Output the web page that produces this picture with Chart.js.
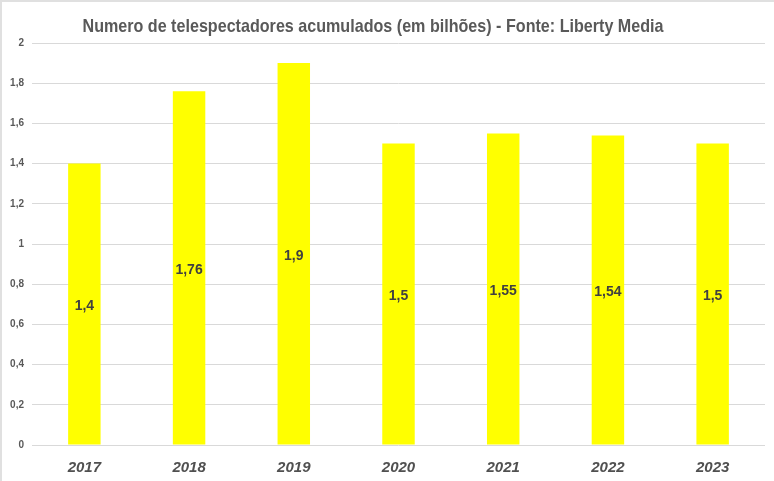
<!DOCTYPE html>
<html>
<head>
<meta charset="utf-8">
<script src="https://cdn.jsdelivr.net/npm/chart.js@4"></script>
<style>
  body { margin: 0; background: #fff; }
  #wrap { width: 774px; height: 481px; box-sizing: border-box; border-left: 2px solid #e0e0e0; border-top: 2px solid #e0e0e0; }
  canvas { display: block; }
</style>
</head>
<body>
<div id="wrap"><canvas id="chart" width="772" height="479"></canvas></div>
<script>
// Viewers in billions per season
const years = ['2017', '2018', '2019', '2020', '2021', '2022', '2023'];
const viewers = [1.4, 1.76, 1.9, 1.5, 1.55, 1.54, 1.5];
const yTicks = [0, 0.2, 0.4, 0.6, 0.8, 1, 1.2, 1.4, 1.6, 1.8, 2];
const titleText = 'Numero de telespectadores acumulados (em bilhões) - Fonte: Liberty Media';

const fmt = v => String(Math.round(v * 100) / 100).replace('.', ',');

// condensed-looking title (no narrow font installed, so squeeze it)
const narrowTitle = {
  id: 'narrowTitle',
  afterDraw(chart) {
    const ctx = chart.ctx;
    ctx.save();
    ctx.font = 'bold 19px "Liberation Sans", Arial, sans-serif';
    ctx.fillStyle = '#595959';
    ctx.textBaseline = 'middle';
    const w = ctx.measureText(titleText).width;
    const sx = 581 / w;
    ctx.translate(371 - 581 / 2, 25);
    ctx.scale(sx, 1);
    ctx.fillText(titleText, 0, 0);
    ctx.restore();
  }
};

// labels in the middle of each bar
const barLabels = {
  id: 'barLabels',
  afterDatasetsDraw(chart) {
    const ctx = chart.ctx;
    const meta = chart.getDatasetMeta(0);
    ctx.save();
    ctx.font = 'bold 14px "Liberation Sans", Arial, sans-serif';
    ctx.fillStyle = '#404040';
    ctx.textAlign = 'center';
    ctx.textBaseline = 'middle';
    meta.data.forEach((bar, i) => {
      const mid = (bar.y + bar.base) / 2;
      ctx.fillText(fmt(viewers[i]), bar.x, mid + 2);
    });
    ctx.restore();
  }
};

new Chart(document.getElementById('chart'), {
  type: 'bar',
  data: {
    labels: years,
    datasets: [{
      data: viewers,
      backgroundColor: '#ffff00',
      categoryPercentage: 1,
      barPercentage: 0.31
    }]
  },
  options: {
    responsive: false,
    animation: false,
    layout: { padding: { left: 0, right: 9, top: 41, bottom: 0 } },
    plugins: {
      legend: { display: false },
      tooltip: { enabled: false },
      title: { display: false }
    },
    scales: {
      x: {
        grid: { display: false },
        border: { display: false },
        ticks: {
          color: '#505050',
          padding: 6,
          font: { family: '"Liberation Sans", Arial, sans-serif', size: 15, weight: 'bold', style: 'italic' }
        },
        afterFit(s) { s.height = 36; }
      },
      y: {
        min: 0,
        max: 2,
        afterBuildTicks(s) { s.ticks = yTicks.map(v => ({ value: v })); },
        grid: { color: '#d9d9d9', lineWidth: 1, drawTicks: false },
        border: { display: false },
        ticks: {
          color: '#595959',
          padding: 8,
          font: { family: '"Liberation Sans", Arial, sans-serif', size: 10, weight: 'bold' },
          callback: v => fmt(v)
        },
        afterFit(s) { s.width = 30; }
      }
    }
  },
  plugins: [barLabels, narrowTitle]
});
</script>
</body>
</html>
